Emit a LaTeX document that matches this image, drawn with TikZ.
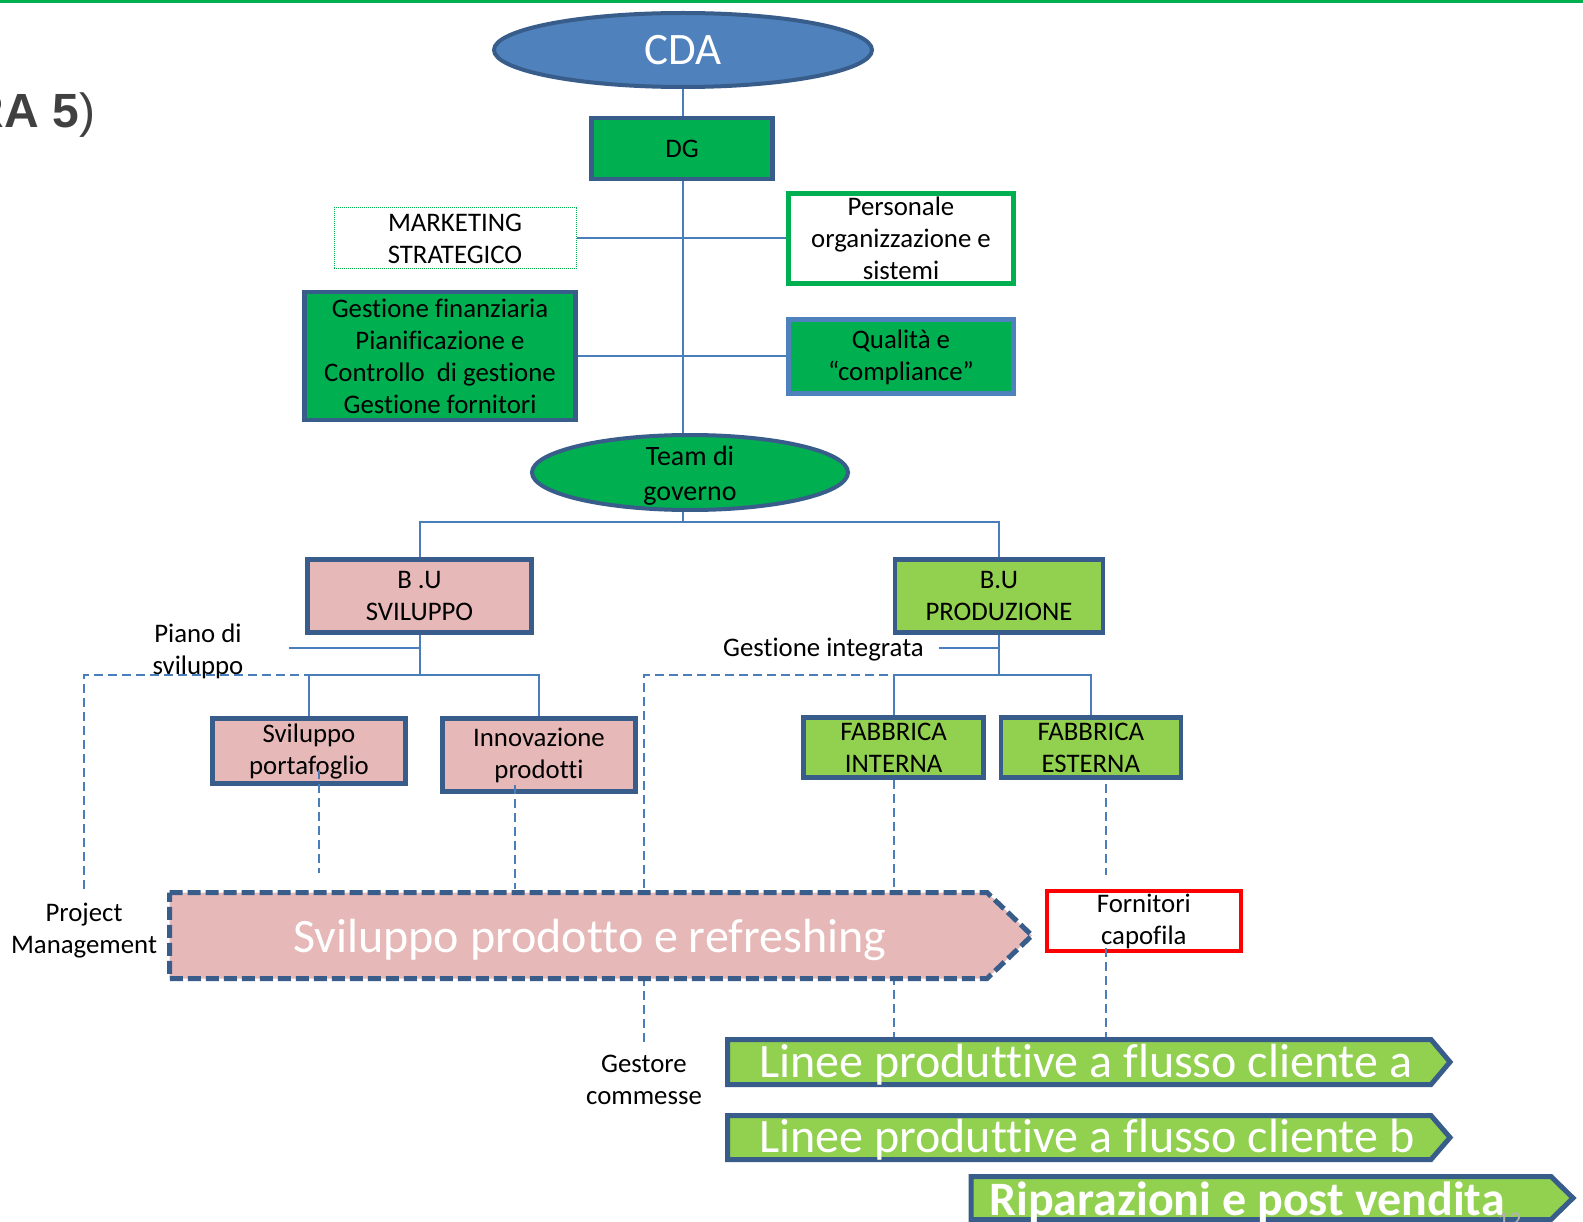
\documentclass[tikz,border=0pt]{standalone}
\usepackage{fontspec}
\setmainfont{Carlito}[Ligatures={NoCommon}]
\newfontfamily\arialfam{Liberation Sans}
\usetikzlibrary{shapes.geometric}
\definecolor{dblue}{HTML}{385D8A}
\definecolor{connc}{HTML}{4A7EBB}
\definecolor{greenA}{HTML}{00B050}
\definecolor{lgreen}{HTML}{92D050}
\definecolor{pinkA}{HTML}{E6B9B8}
\definecolor{cdafill}{HTML}{4F81BD}
\definecolor{grayhd}{HTML}{404040}
\newcommand\fsn{\fontsize{26.8}{32}\selectfont}
\pgfdeclarelayer{front}
\pgfsetlayers{main,front}
\tikzset{
  conn/.style={draw=connc, line width=2pt},
  dsh/.style={draw=connc, line width=1.6pt, dash pattern=on 9pt off 5pt},
  boxn/.style={rectangle, draw=dblue, line width=4.5pt, inner sep=0pt, align=center, font=\fsn, text=black},
  ell/.style={ellipse, draw=dblue, line width=4pt, inner sep=0pt},
  lbl/.style={inner sep=0pt, align=center, font=\fsn, text=black},
  bigtxt/.style={inner sep=0pt, text=white, font=\fontsize{48}{56}\selectfont},
  arrowshape/.style={draw=dblue, line width=5pt, line join=miter},
}
\begin{document}
\begin{tikzpicture}[x=1pt,y=-1pt]
\useasboundingbox (0,0) rectangle (1583,1222);
\fill[white] (0,0) rectangle (1583,1222);
\draw[greenA, line width=3pt] (0,1.5) -- (1583,1.5);

% heading fragment
\node[anchor=base east, inner sep=0pt, font=\arialfam\bfseries\fontsize{48}{54}\selectfont, text=grayhd] (hd) at (95.5,128) {RA 5\mdseries)};

% top nodes
\node[ell, fill=cdafill, minimum width=378pt, minimum height=74pt, text=white, font=\fontsize{45}{54}\selectfont] (cda) at (683,50) {CDA};
\node[boxn, fill=greenA, minimum width=181pt, minimum height=61pt] (dg) at (682,148.5) {DG};
\node[rectangle, draw=greenA, densely dotted, line width=1pt, inner sep=0pt, align=center, font=\fsn, minimum width=242pt, minimum height=61pt] (mkt) at (455,238.5) {MARKETING\\STRATEGICO};
\node[boxn, draw=greenA, line width=5pt, fill=white, minimum width=225pt, minimum height=90pt] (pers) at (901,238.5) {Personale\\organizzazione e\\sistemi};
\node[boxn, fill=greenA, minimum width=271pt, minimum height=128pt] (gest) at (440,356) {Gestione finanziaria\\Pianificazione e\\Controllo\ \ di gestione\\Gestione fornitori};
\node[boxn, draw=cdafill, line width=5pt, fill=greenA, minimum width=225pt, minimum height=74pt] (qual) at (901,357) {Qualità e\\“compliance”};
\node[ell, fill=greenA, minimum width=316pt, minimum height=75pt] (team) at (690,472.5) {};
\node[lbl, font=\fontsize{28}{35}\selectfont] (teamt) at (690,476) {Team di\\governo};

% business units
\node[boxn, fill=pinkA, minimum width=224pt, minimum height=73pt] (bus) at (419.5,596) {B .U\\SVILUPPO};
\node[boxn, fill=lgreen, minimum width=208pt, minimum height=73pt] (bup) at (999,596) {B.U\\PRODUZIONE};
\node[boxn, fill=pinkA, minimum width=193pt, minimum height=65pt] (port) at (309,751) {Sviluppo\\portafoglio};
\node[boxn, fill=pinkA, minimum width=193pt, minimum height=73pt] (inno) at (539,755) {Innovazione\\prodotti};
\node[boxn, fill=lgreen, minimum width=180pt, minimum height=60pt] (fint) at (893.7,747.5) {FABBRICA\\INTERNA};
\node[boxn, fill=lgreen, minimum width=180pt, minimum height=60pt] (fest) at (1090.8,747.5) {FABBRICA\\ESTERNA};
\node[boxn, draw=red, line width=4pt, fill=white, minimum width=194pt, minimum height=60pt] (forn) at (1143.8,921) {Fornitori\\capofila};

% free labels
\node[lbl] (piano) at (198,651) {Piano di\\sviluppo};
\node[lbl, anchor=base east] (gint) at (924,656) {Gestione integrata};
\node[lbl] (pm) at (84,930.5) {Project\\Management};
\node[lbl] (gc) at (644,1080) {Gestore\\commesse};

% solid connectors
\coordinate (j1) at (683,522);
\coordinate (j2) at (419.5,675);
\coordinate (j3) at (999,675);
\draw[conn] (cda.south) -- (cda.south |- dg.north);
\draw[conn] (cda.south |- dg.south) -- (cda.south |- team.north);
\draw[conn] (mkt.east) -- (mkt.east -| pers.west);
\draw[conn] (gest.east) -- (gest.east -| qual.west);
\draw[conn] (cda.south |- team.south) -- (j1);
\draw[conn] (bus.north) |- (j1) -| (bup.north);
\draw[conn] (bus.south) -- (j2);
\draw[conn] (port.north) |- (j2) -| (inno.north);
\coordinate (pianoend) at (289,648);
\draw[conn] (pianoend) -- (pianoend -| bus.south);
\draw[conn] (bup.south) -- (j3);
\draw[conn] (fint.north) |- (j3) -| (fest.north);
\coordinate (gintend) at (939,648);
\draw[conn] (gintend) -- (gintend -| bup.south);

% dashed connectors
\coordinate (pmtop) at (84,889);
\draw[dsh] (pmtop) |- (j2);
\coordinate (p1) at (319,770); \coordinate (p2) at (319,873);
\draw[dsh] (p1) -- (p2);
\coordinate (i1) at (515,785); \coordinate (i2) at (515,889);
\draw[dsh] (i1) -- (i2);
\coordinate (gctop) at (644,1042);
\draw[dsh] (gctop) |- (j3);
\coordinate (lina) at (893.7,1038);
\draw[dsh] (fint.south) -- (lina);
\coordinate (e1) at (1106,784); \coordinate (e2) at (1106,875);
\coordinate (e3) at (1106,948); \coordinate (e4) at (1106,1038);
\draw[dsh] (e1) -- (e2);
\draw[dsh] (e3) -- (e4);

\begin{pgfonlayer}{front}
\draw[arrowshape, fill=pinkA, dash pattern=on 13pt off 5pt] (169.5,892.5) -- (987,892.5) -- (1032,935.5) -- (987,978.5) -- (169.5,978.5) -- cycle;
\node[bigtxt, anchor=base west] (spt) at (293,952) {Sviluppo prodotto e refreshing};
\draw[arrowshape, fill=lgreen] (727.5,1039.5) -- (1431,1039.5) -- (1450,1062) -- (1431,1084.5) -- (727.5,1084.5) -- cycle;
\node[bigtxt, anchor=base west] (la) at (759,1077) {Linee produttive a flusso cliente a};
\draw[arrowshape, fill=lgreen] (727.5,1115.5) -- (1431,1115.5) -- (1450,1137.5) -- (1431,1159.5) -- (727.5,1159.5) -- cycle;
\node[bigtxt, anchor=base west] (lb) at (759,1152) {Linee produttive a flusso cliente b};
\draw[arrowshape, fill=lgreen] (971,1176.5) -- (1551,1176.5) -- (1573,1198) -- (1551,1219.5) -- (971,1219.5) -- cycle;
\node[bigtxt, anchor=base west, font=\bfseries\fontsize{48}{56}\selectfont] (rp) at (989,1215) {Riparazioni e post vendita};
\node[anchor=north west, inner sep=0pt, text=gray!60, font=\fontsize{24}{28}\selectfont] (pg) at (1497,1213) {12};
\end{pgfonlayer}
\end{tikzpicture}
\end{document}
